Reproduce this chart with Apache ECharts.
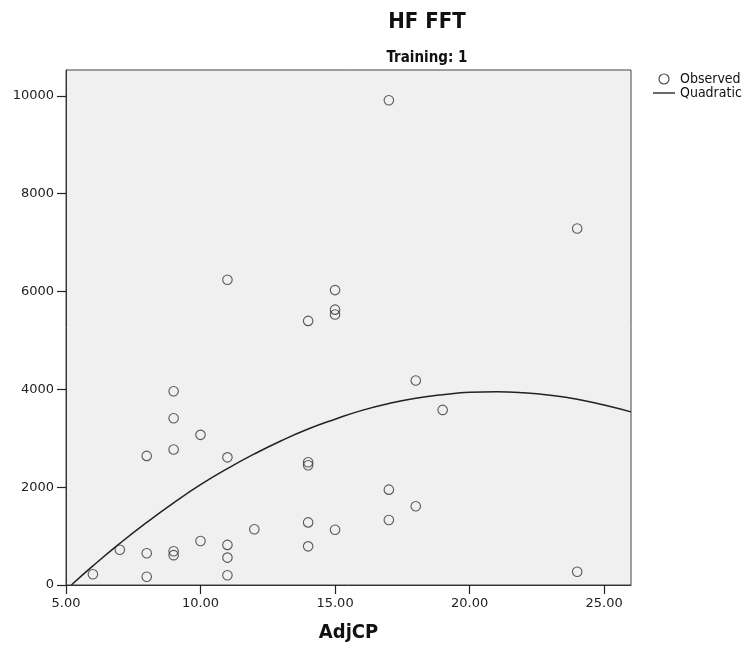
<!DOCTYPE html>
<html><head><meta charset="utf-8">
<script src="https://cdn.jsdelivr.net/npm/echarts@6/dist/echarts.min.js"></script>
<style>html,body{margin:0;padding:0;background:#fff}#c{width:746px;height:648px}</style>
</head><body><div id="c"></div>
<script>
// Observed data (AdjCP, HF FFT)
var obsX = [17, 24, 11, 15, 15, 15, 14, 18, 9, 9, 19, 10, 8, 9, 11, 14, 14, 17, 18, 17, 14, 12, 15, 10, 11, 14, 7, 8, 9, 9, 11, 6, 8, 11, 24];
var obsY = [9910, 7290, 6240, 6030, 5630, 5530, 5400, 4180, 3960, 3410, 3580, 3070, 2640, 2770, 2610, 2510, 2450, 1950, 1610, 1330, 1280, 1140, 1130, 900, 820, 790, 720, 650, 690, 610, 560, 220, 170, 200, 270];
// Quadratic fit curve
var fitX = [5.2, 6, 7, 8, 9, 10, 11, 12, 13, 14, 15, 16, 17, 18, 19, 20, 21, 22, 23, 24, 25, 26];
var fitY = [0, 390, 850, 1280, 1680, 2050, 2380, 2680, 2950, 3190, 3390, 3570, 3710, 3820, 3890, 3940, 3950, 3930, 3880, 3800, 3680, 3540];
// axis ranges and tick step
var xRange = [5, 26, 5];
var yRange = [0, 10530, 2000];

var FONT = '"Liberation Sans Narrow","DejaVu Sans Condensed","Liberation Sans",sans-serif';
var chart = echarts.init(document.getElementById('c'));
chart.setOption({
  animation: false,
  backgroundColor: '#fff',
  title: [
    {text: 'HF FFT', left: 422, top: 6, textAlign: 'center',
     textStyle: {fontFamily: FONT, fontWeight: 'bold', fontSize: 22, color: '#111'}},
    {text: 'Training: 1', left: 422, top: 46, textAlign: 'center',
     textStyle: {fontFamily: FONT, fontWeight: 'bold', fontSize: 15, color: '#111'}}
  ],
  legend: {
    orient: 'vertical', left: 648, top: 67, itemWidth: 22, itemHeight: 10, itemGap: 0,
    textStyle: {fontFamily: FONT, fontSize: 14, lineHeight: 14, color: '#111'},
    data: [
      {name: 'Observed', icon: 'circle', itemStyle: {color: 'rgba(0,0,0,0)', borderColor: '#222', borderWidth: 1.2}},
      {name: 'Quadratic', icon: 'path://M0,0 L26,0 L26,1.6 L0,1.6 Z', itemStyle: {color: '#222'}}
    ]
  },
  grid: {left: 66, top: 70, right: 115, bottom: 62, show: true, backgroundColor: '#f0f0f0', borderColor: '#444', borderWidth: 1, z: 0},
  xAxis: {
    type: 'value', min: xRange[0], max: xRange[1], interval: xRange[2], z: 5,
    name: 'AdjCP', nameLocation: 'middle', nameGap: 38,
    nameTextStyle: {fontFamily: FONT, fontWeight: 'bold', fontSize: 20, color: '#111'},
    axisLine: {show: true, onZero: false, lineStyle: {color: '#333', width: 1}},
    axisTick: {show: true, inside: false, length: 9, lineStyle: {color: '#222', width: 1.2, opacity: 1}},
    splitLine: {show: false},
    axisLabel: {fontFamily: 'DejaVu Sans', fontSize: 13, color: '#222', margin: 12, showMaxLabel: false,
      formatter: function(v){return Number(v).toFixed(2);}}
  },
  yAxis: {
    type: 'value', min: yRange[0], max: yRange[1], interval: yRange[2], z: 5,
    axisLine: {show: true, lineStyle: {color: '#333', width: 1}},
    axisTick: {show: true, inside: false, length: 9, lineStyle: {color: '#222', width: 1.2, opacity: 1}},
    splitLine: {show: false},
    axisLabel: {fontFamily: 'DejaVu Sans', fontSize: 13, color: '#222', margin: 12, showMaxLabel: false,
      formatter: function(v){return String(v);}}
  },
  series: [
    {name: 'Observed', type: 'scatter', symbol: 'circle', symbolSize: 9.5,
     itemStyle: {color: 'rgba(0,0,0,0)', borderColor: '#333', borderWidth: 1.1},
     data: obsX.map(function(x, i){return [x, obsY[i]];}), z: 3},
    {name: 'Quadratic', type: 'line', smooth: true, symbol: 'none', showSymbol: false,
     lineStyle: {color: '#222', width: 1.5}, itemStyle: {color: '#222'},
     data: fitX.map(function(x, i){return [x, fitY[i]];}), z: 2}
  ]
});
</script></body></html>
